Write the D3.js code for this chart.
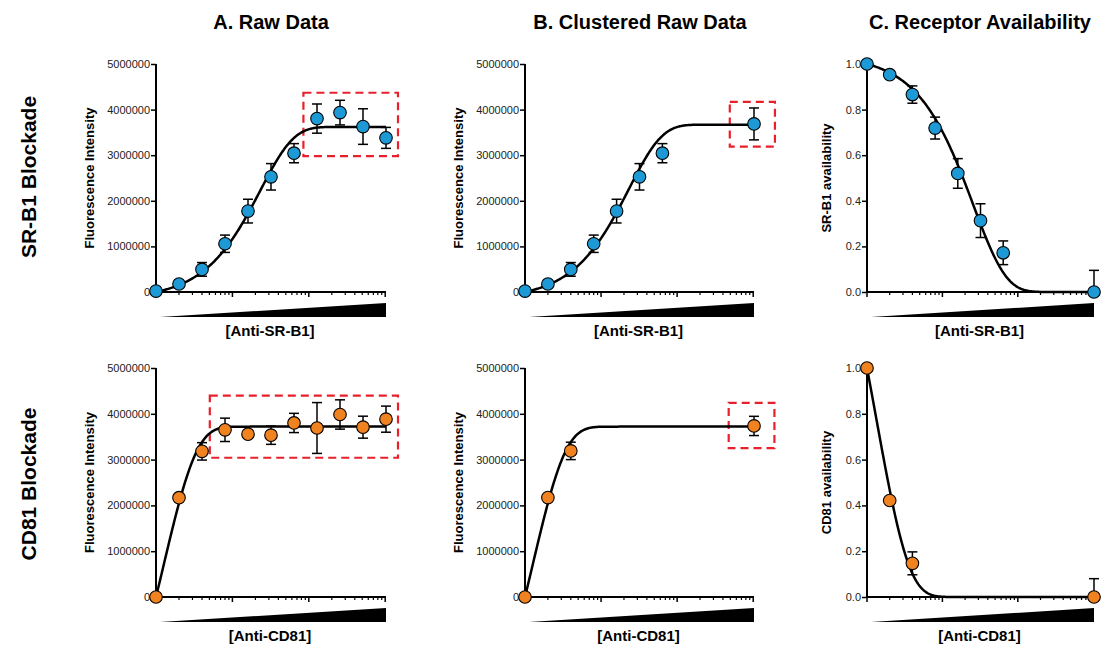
<!DOCTYPE html>
<html>
<head>
<meta charset="utf-8">
<script src="https://cdn.jsdelivr.net/npm/d3@7"></script>
<style>
  body { margin: 0; background: #fff; }
  svg { font-family: "Liberation Sans", Arial, sans-serif; }
</style>
</head>
<body>
<svg id="chart" width="1101" height="647"></svg>
<script>
// relative antibody dose, 2-fold steps (1 = no antibody, drawn at axis start)
var doses = [1, 2, 4, 8, 16, 32, 64, 128, 256, 512, 1024];
var srb1ClusterDoses = [1, 2, 4, 8, 16, 32, 64, 1024];
var cd81ClusterDoses = [1, 2, 4, 1024];

// SR-B1 blockade
var srb1Raw = [20000, 175000, 496000, 1058000, 1774000, 2526000, 3044000, 3803000, 3934000, 3628000, 3380000];
var srb1RawErr = [0, 40000, 150000, 190000, 260000, 290000, 210000, 320000, 270000, 390000, 230000];
var srb1Clustered = [20000, 175000, 496000, 1058000, 1774000, 2526000, 3044000, 3686000];
var srb1ClusteredErr = [0, 40000, 150000, 190000, 260000, 290000, 210000, 350000];
var srb1Avail = [1.0, 0.953, 0.866, 0.719, 0.520, 0.313, 0.172, 0.0];
var srb1AvailErr = [0, 0.01, 0.038, 0.048, 0.065, 0.074, 0.052, 0.095];

// CD81 blockade
var cd81Raw = [0, 2168000, 3180000, 3650000, 3555000, 3533000, 3800000, 3690000, 3985000, 3708000, 3883000];
var cd81RawErr = [0, 0, 190000, 255000, 40000, 200000, 210000, 555000, 320000, 240000, 285000];
var cd81Clustered = [0, 2170000, 3190000, 3735000];
var cd81ClusteredErr = [0, 0, 190000, 210000];
var cd81Avail = [1.0, 0.4215, 0.147, 0.0];
var cd81AvailErr = [0, 0, 0.05, 0.08];

// fitted one-phase curves: [plateau, rate]
var srb1RawFit = [3620000, 0.043];
var srb1ClusteredFit = [3670000, 0.043];
var srb1AvailFit = [1, 0.039];
var cd81RawFit = [3720000, 0.8];
var cd81ClusteredFit = [3720000, 0.8];
var cd81AvailFit = [1, 0.76];

// highlighted clusters: [dose from, dose to, value from, value to]
var srb1RawBox = [85, 1470, 2980000, 4370000];
var srb1ClusteredBox = [492, 1930, 3190000, 4170000];
var cd81RawBox = [5.06, 1470, 3040000, 4395000];
var cd81ClusteredBox = [476, 1900, 3250000, 4240000];

var columnTitles = ["A. Raw Data", "B. Clustered Raw Data", "C. Receptor Availability"];
var rowTitles = ["SR-B1 Blockade", "CD81 Blockade"];
var fiTicks = [0, 1000000, 2000000, 3000000, 4000000, 5000000];
var availTicks = [0, 0.2, 0.4, 0.6, 0.8, 1.0];

var blue = "#1d9ad6", orange = "#f0821f", red = "#e8202b";

var svg = d3.select("#chart");

var colX = [[156, 386], [525, 754], [867, 1094]];
var rowY = [[292, 64], [597, 368]];

svg.selectAll(".coltitle")
  .data(columnTitles)
  .enter().append("text")
    .attr("x", function(d, i) { return [271, 640, 980][i]; })
    .attr("y", 29)
    .attr("text-anchor", "middle")
    .attr("font-size", "20px")
    .attr("font-weight", "bold")
    .text(function(d) { return d; });

svg.selectAll(".rowtitle")
  .data(rowTitles)
  .enter().append("text")
    .attr("transform", function(d, i) { return "translate(36," + [177, 484][i] + ") rotate(-90)"; })
    .attr("text-anchor", "middle")
    .attr("font-size", "21px")
    .attr("font-weight", "bold")
    .text(function(d) { return d; });

var panels = [
  {col: 0, row: 0, dose: doses, y: srb1Raw, err: srb1RawErr, fit: srb1RawFit, rising: true, box: srb1RawBox, color: blue, ylab: "Fluorescence Intensity", xlab: "[Anti-SR-B1]"},
  {col: 1, row: 0, dose: srb1ClusterDoses, y: srb1Clustered, err: srb1ClusteredErr, fit: srb1ClusteredFit, rising: true, box: srb1ClusteredBox, color: blue, ylab: "Fluorescence Intensity", xlab: "[Anti-SR-B1]"},
  {col: 2, row: 0, dose: srb1ClusterDoses, y: srb1Avail, err: srb1AvailErr, fit: srb1AvailFit, rising: false, box: null, color: blue, ylab: "SR-B1 availability", xlab: "[Anti-SR-B1]"},
  {col: 0, row: 1, dose: doses, y: cd81Raw, err: cd81RawErr, fit: cd81RawFit, rising: true, box: cd81RawBox, color: orange, ylab: "Fluorescence Intensity", xlab: "[Anti-CD81]"},
  {col: 1, row: 1, dose: cd81ClusterDoses, y: cd81Clustered, err: cd81ClusteredErr, fit: cd81ClusteredFit, rising: true, box: cd81ClusteredBox, color: orange, ylab: "Fluorescence Intensity", xlab: "[Anti-CD81]"},
  {col: 2, row: 1, dose: cd81ClusterDoses, y: cd81Avail, err: cd81AvailErr, fit: cd81AvailFit, rising: false, box: null, color: orange, ylab: "CD81 availability", xlab: "[Anti-CD81]"}
];

panels.forEach(drawPanel);

function drawPanel(p) {
  var avail = p.col == 2;
  var xr = colX[p.col], yr = rowY[p.row];
  var x = d3.scaleLog().domain([1, 1024]).range(xr);
  var y = d3.scaleLinear().domain(avail ? [0, 1] : [0, 5000000]).range(yr);
  var g = svg.append("g");

  // red dashed cluster box
  if (p.box) {
    g.append("rect")
      .attr("x", x(p.box[0]))
      .attr("y", y(p.box[3]))
      .attr("width", x(p.box[1]) - x(p.box[0]))
      .attr("height", y(p.box[2]) - y(p.box[3]))
      .attr("fill", "none")
      .attr("stroke", red)
      .attr("stroke-width", 2.2)
      .attr("stroke-dasharray", "8,5");
  }

  // x axis: major ticks at decades, minor in between
  var major = [1, 10, 100, 1000];
  var minor = [];
  [1, 10, 100].forEach(function(b) {
    for (var m = 2; m <= 9; m++) minor.push(b * m);
  });
  g.append("line")
    .attr("x1", xr[0]).attr("x2", xr[1])
    .attr("y1", yr[0]).attr("y2", yr[0])
    .attr("stroke", "#000").attr("stroke-width", 2);
  g.selectAll(".mj").data(major).enter().append("line")
    .attr("x1", function(d) { return x(d); }).attr("x2", function(d) { return x(d); })
    .attr("y1", yr[0]).attr("y2", yr[0] + 5)
    .attr("stroke", "#000").attr("stroke-width", 1.5);
  g.selectAll(".mn").data(minor).enter().append("line")
    .attr("x1", function(d) { return x(d); }).attr("x2", function(d) { return x(d); })
    .attr("y1", yr[0]).attr("y2", yr[0] + 3)
    .attr("stroke", "#000").attr("stroke-width", 1.2);

  // y axis
  var yAxis = d3.axisLeft(y)
    .tickValues(avail ? availTicks : fiTicks)
    .tickFormat(avail ? d3.format(".1f") : d3.format("d"))
    .tickSize(5)
    .tickPadding(1);
  var ya = g.append("g")
    .attr("transform", "translate(" + xr[0] + ",0)")
    .call(yAxis);
  ya.select(".domain").attr("stroke-width", 2).attr("d", "M0," + (yr[0] + 1) + "V" + yr[1]);
  ya.selectAll(".tick line").attr("stroke-width", 1.5);
  ya.selectAll(".tick text")
    .attr("font-size", "11px")
    .attr("font-family", "Liberation Sans, Arial, sans-serif")
    .attr("fill", "#222");

  g.append("text")
    .attr("transform", "translate(" + (xr[0] - (avail ? 36 : 62)) + "," + ((yr[0] + yr[1]) / 2) + ") rotate(-90)")
    .attr("text-anchor", "middle")
    .attr("font-size", "13px")
    .attr("font-weight", "bold")
    .text(p.ylab);

  // dose wedge
  var wb = yr[0] + 25;
  g.append("path")
    .attr("d", "M" + (x(1) + 4) + "," + wb + "L" + x(1024) + "," + (wb - 14) + "L" + x(1024) + "," + wb + "Z")
    .attr("fill", "#000");
  g.append("text")
    .attr("x", (xr[0] + xr[1]) / 2 - 1)
    .attr("y", yr[0] + 44)
    .attr("text-anchor", "middle")
    .attr("font-size", "15px")
    .attr("font-weight", "bold")
    .text(p.xlab);

  // fitted curve
  var top = p.fit[0], k = p.fit[1];
  var fx = d3.range(0, 301).map(function(i) { return Math.pow(1024, i / 300); });
  var line = d3.line()
    .x(function(d) { return x(d); })
    .y(function(d) {
      var e = Math.exp(-k * (d - 1));
      return y(p.rising ? top * (1 - e) : top * e);
    });
  g.append("path")
    .datum(fx)
    .attr("d", line)
    .attr("fill", "none")
    .attr("stroke", "#000")
    .attr("stroke-width", 2.5);

  // error bars
  var pts = p.dose.map(function(d, i) { return {d: d, v: p.y[i], e: p.err[i]}; })
    .filter(function(d) { return d.e > 0; });
  var eb = g.selectAll(".eb").data(pts).enter().append("g");
  eb.append("line")
    .attr("x1", function(d) { return x(d.d); }).attr("x2", function(d) { return x(d.d); })
    .attr("y1", function(d) { return y(Math.max(0, d.v - d.e)); })
    .attr("y2", function(d) { return y(d.v + d.e); })
    .attr("stroke", "#000").attr("stroke-width", 1.5);
  eb.append("line")
    .attr("x1", function(d) { return x(d.d) - 5; }).attr("x2", function(d) { return x(d.d) + 5; })
    .attr("y1", function(d) { return y(d.v + d.e); }).attr("y2", function(d) { return y(d.v + d.e); })
    .attr("stroke", "#000").attr("stroke-width", 1.5);
  eb.filter(function(d) { return d.v - d.e > 0; }).append("line")
    .attr("x1", function(d) { return x(d.d) - 5; }).attr("x2", function(d) { return x(d.d) + 5; })
    .attr("y1", function(d) { return y(d.v - d.e); }).attr("y2", function(d) { return y(d.v - d.e); })
    .attr("stroke", "#000").attr("stroke-width", 1.5);

  // points
  g.selectAll(".dot")
    .data(p.dose)
    .enter().append("circle")
      .attr("cx", function(d) { return x(d); })
      .attr("cy", function(d, i) { return y(p.y[i]); })
      .attr("r", 6.3)
      .attr("fill", p.color)
      .attr("stroke", "#000")
      .attr("stroke-width", 1.1);
}
</script>
</body>
</html>
